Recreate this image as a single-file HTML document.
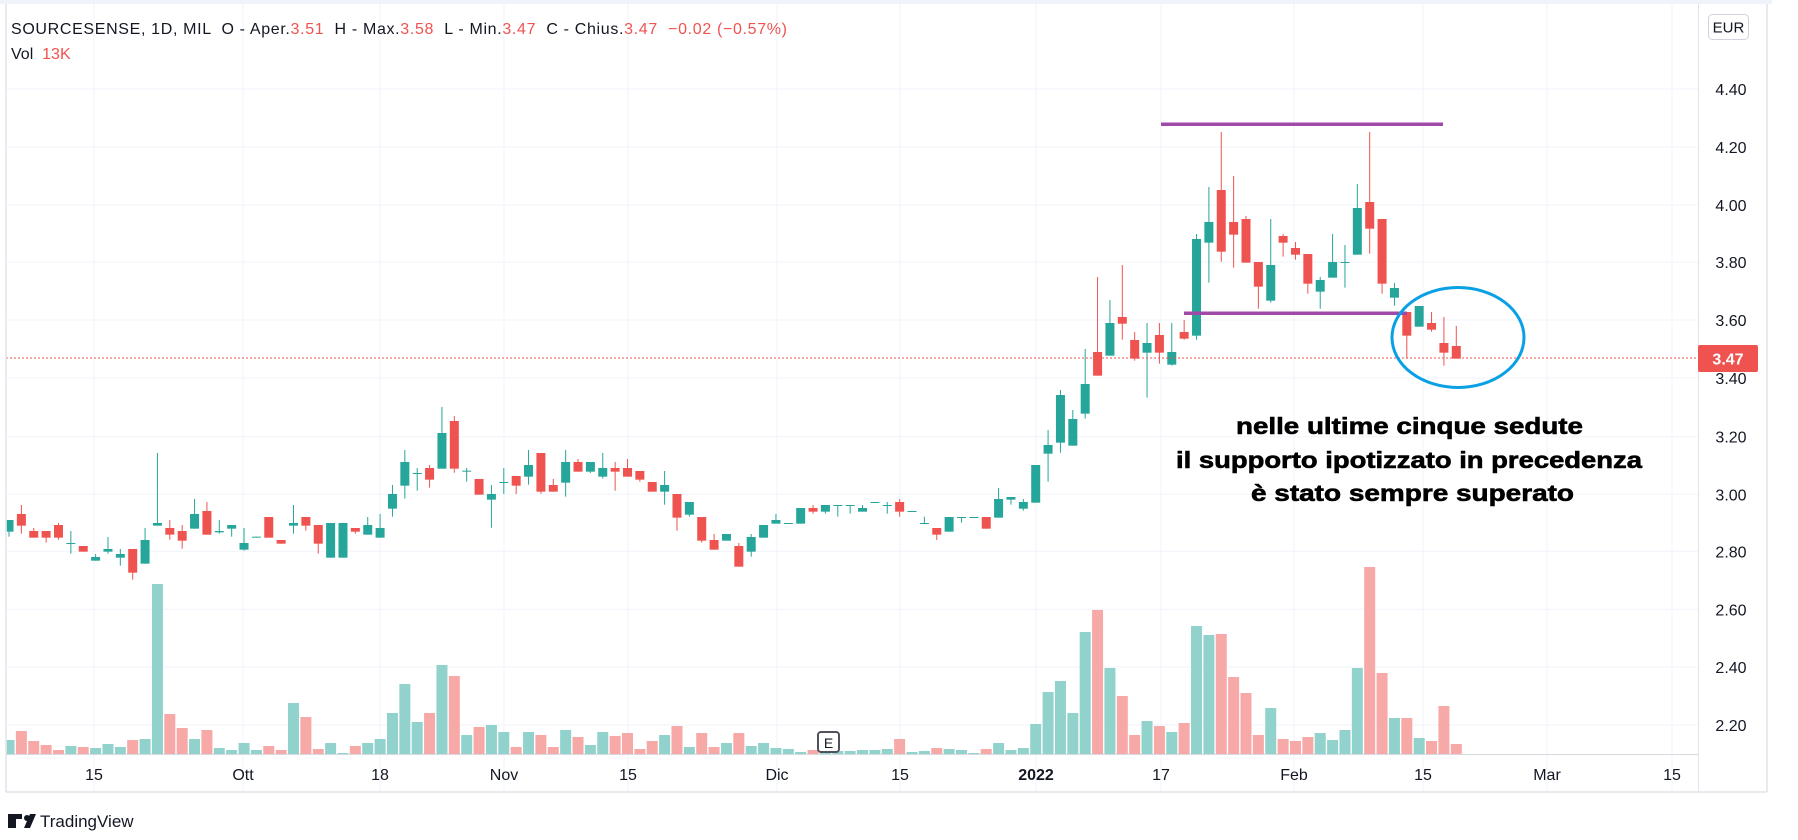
<!DOCTYPE html>
<html><head><meta charset="utf-8"><style>
html,body{margin:0;padding:0;background:#fff;}
body{width:1798px;height:840px;overflow:hidden;font-family:"Liberation Sans",Arial,sans-serif;}
</style></head><body>
<svg id="s" width="1798" height="840" xmlns="http://www.w3.org/2000/svg" style="position:absolute;left:0;top:0">
<rect x="0" y="0" width="1798" height="840" fill="#fff"/>
<rect x="0" y="0" width="1772" height="4" fill="#f0f3fa"/>
<g id="grid"></g>
<g id="vol"></g>
<g id="cdl"></g>
<line x1="6" y1="358" x2="1698" y2="358" stroke="#ef5350" stroke-width="1" stroke-dasharray="2,2"/>
<rect x="1161" y="122.5" width="282" height="3.5" fill="#a04aa8"/>
<rect x="1184" y="311.5" width="223" height="3.5" fill="#a04aa8"/>
<ellipse cx="1458" cy="337.5" rx="66" ry="50" fill="none" stroke="#0aa0e6" stroke-width="3"/>
<g font-family="Liberation Sans, Arial, sans-serif" font-weight="bold" font-size="23" fill="#000" stroke="#000" stroke-width="0.6">
<text x="1236" y="434" textLength="347" lengthAdjust="spacingAndGlyphs">nelle ultime cinque sedute</text>
<text x="1176" y="468" textLength="466" lengthAdjust="spacingAndGlyphs">il supporto ipotizzato in precedenza</text>
<text x="1251" y="501" textLength="323" lengthAdjust="spacingAndGlyphs">è stato sempre superato</text>
</g>
<line x1="6" y1="4" x2="6" y2="792" stroke="#e0e3eb" stroke-width="1.5"/>
<line x1="1698.5" y1="4" x2="1698.5" y2="792" stroke="#e0e3eb" stroke-width="1"/>
<line x1="1767" y1="4" x2="1767" y2="792" stroke="#e0e3eb" stroke-width="1.5"/>
<line x1="6" y1="754.5" x2="1698" y2="754.5" stroke="#d6d9e0" stroke-width="1"/>
<line x1="6" y1="792" x2="1767" y2="792" stroke="#e0e3eb" stroke-width="1.5"/>
<g id="lbl" font-family="Liberation Sans, Arial, sans-serif" font-size="16" fill="#131722"></g>
<rect x="1708.5" y="14.5" width="40" height="25" rx="4" fill="#fff" stroke="#d1d4dc"/>
<text x="1728.5" y="32.5" text-anchor="middle" font-family="Liberation Sans, Arial, sans-serif" font-size="15" fill="#131722">EUR</text>
<rect x="1698" y="345" width="60" height="27" rx="2" fill="#ef5350"/>
<text x="1728" y="364.5" text-anchor="middle" font-family="Liberation Sans, Arial, sans-serif" font-size="16" font-weight="bold" fill="#fff">3.47</text>
<text x="11" y="34" xml:space="preserve" textLength="776" lengthAdjust="spacing" font-family="Liberation Sans, Arial, sans-serif" font-size="16" fill="#131722">SOURCESENSE, 1D, MIL  O - Aper.<tspan fill="#ef5350">3.51</tspan>  H - Max.<tspan fill="#ef5350">3.58</tspan>  L - Min.<tspan fill="#ef5350">3.47</tspan>  C - Chius.<tspan fill="#ef5350">3.47  −0.02 (−0.57%)</tspan></text>
<text x="11" y="59" xml:space="preserve" font-family="Liberation Sans, Arial, sans-serif" font-size="16" fill="#131722">Vol  <tspan fill="#ef5350">13K</tspan></text>
<rect x="818" y="732" width="21" height="20" rx="3" fill="#fff" stroke="#50535e" stroke-width="2"/>
<text x="828.5" y="748" text-anchor="middle" font-family="Liberation Sans, Arial, sans-serif" font-size="14" fill="#131722">E</text>
<g transform="translate(8,814)">
<rect x="0" y="0" width="8" height="14" fill="#131722"/><rect x="0" y="0" width="14" height="5" fill="#131722"/>
<circle cx="19" cy="4" r="3" fill="#131722"/>
<path d="M16 14 L22 0 L28 0 L22 14Z" fill="#131722"/>
</g>
<text x="40" y="827" font-family="Liberation Sans, Arial, sans-serif" font-size="17" fill="#131722">TradingView</text>
</svg>
<script>
var NS="http://www.w3.org/2000/svg";
function el(p,t,a){var e=document.createElementNS(NS,t);for(var k in a)e.setAttribute(k,a[k]);document.getElementById(p).appendChild(e);return e;}
var ph=[["4.40",89],["4.20",147],["4.00",205],["3.80",262],["3.60",320],["3.40",378],["3.20",436.7],["3.00",494.3],["2.80",551.3],["2.60",609.3],["2.40",667],["2.20",725]];
ph.forEach(function(p){el("grid","line",{x1:6,x2:1698,y1:p[1],y2:p[1],stroke:"#f0f3fa","stroke-width":1});
 var t=el("lbl","text",{x:1731,y:p[1]+6,"text-anchor":"middle"});t.textContent=p[0];});
var xl=[["15",94],["Ott",243],["18",380],["Nov",504],["15",628],["Dic",777],["15",900],["2022",1036],["17",1161],["Feb",1294],["15",1423],["Mar",1547],["15",1672]];
xl.forEach(function(p){el("grid","line",{x1:p[1],x2:p[1],y1:4,y2:792,stroke:"#f0f3fa","stroke-width":1});
 var t=el("lbl","text",{x:p[1],y:780,"text-anchor":"middle"});t.textContent=p[0];if(p[0]=="2022")t.setAttribute("font-weight","bold");});
var A=[["g",420,455,420,470],["r",402,437,375,461],["r",453,473,444,473],["r",453,473,453,488],["r",435,473,429,479],["g",489,491,453,521],["r",498,515,498,515],["g",531,542,522,542],["g",507,515,471,521],["g",522,533,507,557],["r",507,578,507,599],["g",480,551,444,551],["g",429,437,219,437],["r",444,464,420,479],["r",453,482,435,506],["g",402,446,357,446],["r",393,464,366,464],["g",453,457,420,461],["g",435,446,435,470],["g",489,509,444,512],["g",470,472,470,472],["r",411,473,411,473],["r",480,491,480,491],["g",429,437,375,461],["r",411,437,411,452],["r",435,491,435,521],["g",429,533,429,533],["g",429,533,429,533],["r",444,455,444,461],["g",435,464,411,464],["g",444,473,402,473],["g",342,386,315,410],["g",246,317,210,356],["g",279,281,264,332],["r",264,299,255,323],["g",159,266,81,266],["r",123,266,108,278],
["g",272,274,264,305],["r",297,344,297,344],["g",342,359,315,443],["g",306,308,264,342],["r",288,317,288,342],["g",255,290,210,314],["r",219,335,219,341],["r",315,335,297,335],["g",246,308,210,350],["r",246,275,237,275],["g",246,275,246,279],["g",264,290,219,296],["r",264,275,246,332],["r",264,290,237,290],["r",273,299,273,305],["r",306,335,306,335],["g",315,335,273,374],["r",342,413,342,452],["g",366,404,366,410],["r",411,482,411,488],["r",480,509,462,509],["g",462,482,462,482],["r",498,560,489,560],["g",471,515,462,530],["g",435,473,435,473],["g",420,431,402,431],["g",429,431,429,431],["g",384,431,384,431],["r",384,395,375,401],["g",375,395,375,401],["g",375,377,375,410],["g",375,377,375,401],["g",384,395,375,395],["g",366,368,366,368],["g",375,377,366,401],["r",366,395,357,410]];
var B=[["g",1233,1235,1233,1235],["g",1269,1271,1250,1271],["r",1284,1304,1284,1320],["g",1251,1295,1251,1295],["g",1251,1253,1251,1268],["g",1251,1253,1251,1253],["r",1251,1286,1251,1286],["g",1197,1253,1164,1253],["g",1191,1199,1191,1214],["g",1206,1226,1197,1232],["g",1095,1208,1095,1208],["g",1035,1061,990,1145],["g",885,1028,870,1058],["g",957,1037,930,1037],["g",852,941,747,956],["r",756,827,531,827],["g",669,767,600,767],["r",651,671,495,719],["r",720,776,696,782],["g",729,758,669,893],["r",705,758,669,791],["g",756,794,669,797],["r",696,716,660,719],["g",417,707,402,719],["g",366,428,261,548],["r",270,455,96,485],["r",366,404,228,503],["r",357,488,348,488],["r",486,560,486,626],["g",495,602,357,608],["r",408,428,402,470],["r",444,464,426,479],["r",462,551,462,581],["g",540,575,531,626],["g",486,533,402,533],
["g",486,488,435,563],["g",324,464,252,464],["r",306,386,96,461],["r",357,551,357,581],["g",564,593,549,617],["r",636,707,636,776],["g",618,680,618,680],["r",669,689,636,695],["r",729,758,651,797],["r",738,776,678,776]];
var C={g:"#26a69a",r:"#ef5350"},CV={g:"#92d2cc",r:"#f7a9a7"};
var cand=[];A.forEach(function(d){cand.push([d[0],380+d[1]/3,380+d[2]/3,380+d[3]/3,380+d[4]/3]);});
B.forEach(function(d){cand.push([d[0],100+d[1]/3,100+d[2]/3,100+d[3]/3,100+d[4]/3]);});
var V1=[["g",1080],["r",1053],["r",1083],["r",1095],["r",1110],["g",1098],["r",1101],["g",1104],["g",1092],["g",1101],["r",1080],["g",1077],["g",612],["r",1002],["r",1044],["g",1077],["r",1050],["g",1104],["g",1110],["g",1089],["g",1110],["r",1098],["r",1110],["g",969],["r",1011],["r",1107],["g",1089],["g",1119],["r",1098],["g",1089],["g",1077],["g",999],["g",912],["g",1026],["r",999],["g",855],["r",888],
["g",1065],["r",1041],["g",1035],["g",1056],["r",1101],["g",1056],["r",1065],["r",1101],["g",1050],["r",1071],["g",1095],["g",1056],["r",1068],["r",1059],["r",1107],["r",1083],["g",1065],["r",1038],["g",1101],["r",1059],["r",1101],["g",1089],["r",1059],["g",1098],["g",1089],["g",1104],["g",1107],["g",1116],["r",1110],["g",1101],["g",1113],["g",1113],["g",1110],["g",1110],["g",1107],["r",1077]];
var V2=[["g",516],["g",513],["r",504],["g",507],["g",510],["g",519],["r",507],["g",489],["g",510],["g",504],["g",432],["g",336],["g",303],["g",399],["g",156],["r",90],["g",264],["r",348],["r",465],["g",423],["r",438],["g",456],["r",429],["g",138],["g",165],["r",162],["r",291],["r",339],["r",465],["g",384]];
var V3=[["r",537],["r",543],["r",531],["g",519],["g",540],["g",510],["g",324],["r",21],["r",339],["g",474],["r",474],["g",534],["r",543],["r",438],["r",552]];
var vol=[];V1.forEach(function(d){vol.push([d[0],380+d[1]/3]);});V2.forEach(function(d){vol.push([d[0],580+d[1]/3]);});V3.forEach(function(d){vol.push([d[0],560+d[1]/3]);});
function X(i){return 9+12.37*i;}
vol.forEach(function(v,i){var x=X(i)-5.5,w=11;if(x<6.7){w-=6.7-x;x=6.7;}
 el("vol","rect",{x:x,y:v[1],width:w,height:Math.max(754-v[1],1),fill:CV[v[0]]});});
cand.forEach(function(c,i){var x=X(i),col=C[c[0]];
 el("cdl","rect",{x:x-0.5,y:c[3],width:1,height:Math.max(c[4]-c[3],1),fill:col});
 var bx=x-4.5,bw=9;if(bx<6.7){bw-=6.7-bx;bx=6.7;}
 el("cdl","rect",{x:bx,y:c[1],width:bw,height:Math.max(c[2]-c[1],1),fill:col});});
</script>
</body></html>
